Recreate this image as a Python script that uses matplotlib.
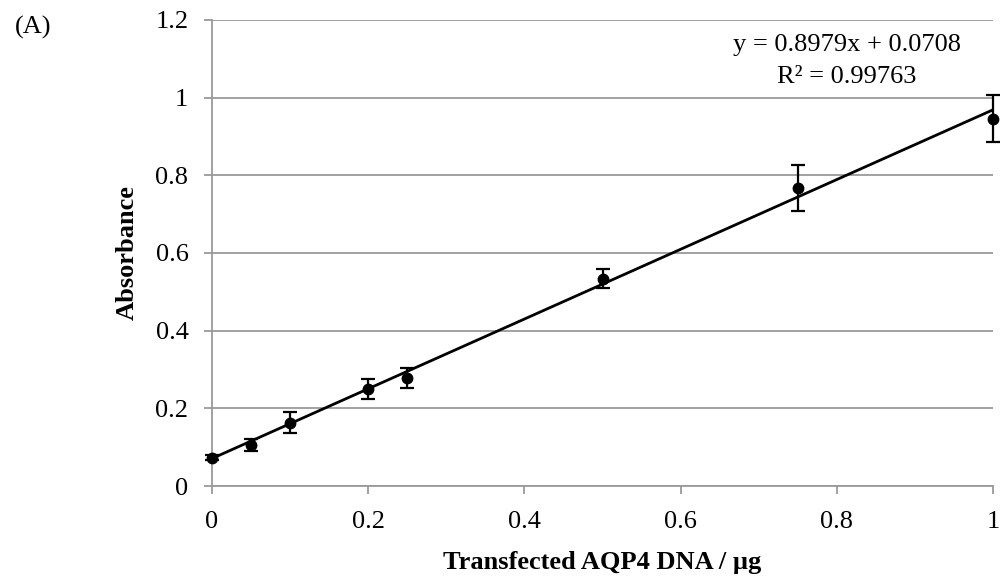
import matplotlib
matplotlib.use("Agg")
import matplotlib.pyplot as plt
import numpy as np

# data
dna_ug = [0, 0.05, 0.1, 0.2, 0.25, 0.5, 0.75, 1.0]
absorbance = [0.073, 0.105, 0.163, 0.250, 0.278, 0.534, 0.767, 0.946]
abs_err = [0.006, 0.016, 0.027, 0.026, 0.026, 0.024, 0.059, 0.061]
slope, intercept = 0.8979, 0.0708
r_squared = 0.99763
x_ticks = [0, 0.2, 0.4, 0.6, 0.8, 1]
y_ticks = [0, 0.2, 0.4, 0.6, 0.8, 1, 1.2]

plt.rcParams['font.family'] = ['Liberation Serif', 'DejaVu Serif']

fig = plt.figure(figsize=(10.02, 5.81), dpi=100)
ax = fig.add_axes([0.2116, 0.1635, 0.7794, 0.8021])

grid_col = '#9a9a9a'
fs = 19
ax.set_xlim(0, 1)
ax.set_ylim(0, 1.2)
ax.set_yticks(y_ticks)
ax.set_xticks(x_ticks)
ax.set_yticklabels(['0', '0.2', '0.4', '0.6', '0.8', '1', '1.2'])
ax.set_xticklabels(['0', '0.2', '0.4', '0.6', '0.8', '1'])
ax.yaxis.grid(True, color=grid_col, lw=1.3)
ax.set_axisbelow(True)
for s in ['top', 'right']:
    ax.spines[s].set_visible(False)
for s in ['left', 'bottom']:
    ax.spines[s].set_color(grid_col)
    ax.spines[s].set_linewidth(1.3)
ax.tick_params(axis='both', direction='out', length=6, width=1.3, color=grid_col,
               labelsize=fs, labelcolor='black')
ax.tick_params(axis='y', pad=11)
ax.tick_params(axis='x', pad=12)

# trendline
xl = np.array([0, 1.0])
ax.plot(xl, slope * xl + intercept, color='black', lw=2, zorder=3)

ax.errorbar(dna_ug, absorbance, yerr=abs_err, fmt='o', color='black', ms=7.5,
            ecolor='black', elinewidth=1.6, capsize=5, capthick=1.6, zorder=4,
            clip_on=False)

ax.text(0.813, 1.135, f'y = {slope}x + {intercept}', ha='center', va='center', fontsize=fs)
ax.text(0.813, 1.053, f'R² = {r_squared}', ha='center', va='center', fontsize=fs)

ax.set_xlabel('Transfected AQP4 DNA / µg', fontsize=fs, fontweight='bold', labelpad=13)
ax.set_ylabel('Absorbance', fontsize=fs, fontweight='bold', labelpad=12)

fig.text(0.033, 0.953, '(A)', fontsize=fs, ha='center', va='center')

fig.savefig('out.png', dpi=100)
